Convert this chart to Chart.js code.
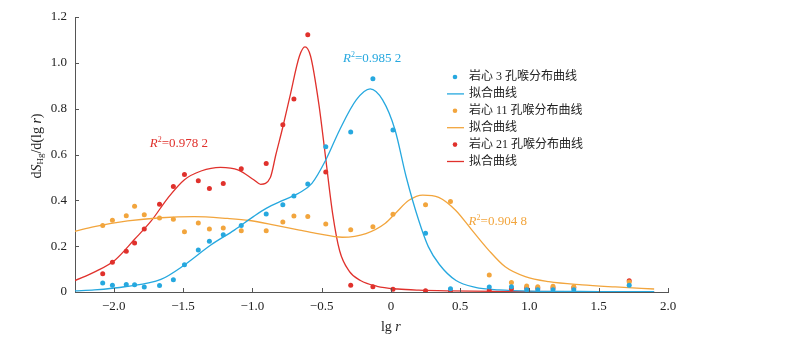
<!DOCTYPE html>
<html>
<head>
<meta charset="utf-8">
<script src="https://cdn.jsdelivr.net/npm/chart.js@4.4.1/dist/chart.umd.min.js"></script>
<style>
  html, body { margin: 0; padding: 0; background: #fff; }
  #wrap { width: 789px; height: 341px; }
</style>
</head>
<body>
<div id="wrap"><canvas id="poreChart" width="789" height="341"></canvas></div>
<script>
// measured pore-throat points (shared lg r positions)
const lgR = [-2.08, -2.01, -1.91, -1.85, -1.78, -1.67, -1.57, -1.49, -1.39, -1.31, -1.21, -1.08, -0.90, -0.78,
  -0.70, -0.60, -0.47, -0.29, -0.13, 0.015, 0.25, 0.43, 0.71, 0.87, 0.98, 1.06, 1.17, 1.32, 1.72];
const core3 = [0.039, 0.030, 0.033, 0.032, 0.022, 0.028, 0.054, 0.119, 0.183, 0.222, 0.250, 0.290, 0.340, 0.381,
  0.419, 0.471, 0.634, 0.698, 0.931, 0.707, 0.256, 0.014, 0.022, 0.023, 0.010, 0.010, 0.010, 0.010, 0.029];
const core11 = [0.290, 0.313, 0.333, 0.374, 0.337, 0.323, 0.318, 0.263, 0.301, 0.275, 0.279, 0.267, 0.267, 0.305,
  0.332, 0.329, 0.297, 0.272, 0.285, 0.339, 0.381, 0.395, 0.074, 0.041, 0.026, 0.023, 0.025, 0.023, 0.044];
const core21 = [0.080, 0.130, 0.178, 0.214, 0.275, 0.383, 0.460, 0.513, 0.486, 0.452, 0.473, 0.538, 0.561, 0.730,
  0.842, 1.123, 0.524, 0.030, 0.023, 0.012, 0.006, 0.004, 0.005, 0.014, 0.019, 0.017, 0.017, 0.019, 0.049];

// fitted curves
const fit3X = [-2.28, -2.14, -1.91, -1.66, -1.49, -1.30, -1.13, -0.99, -0.90, -0.78, -0.66, -0.57, -0.47, -0.37,
  -0.25, -0.15, -0.06, 0.03, 0.11, 0.20, 0.27, 0.35, 0.47, 0.61, 0.78, 1.00, 1.50, 1.90];
const fit3Y = [0.005, 0.009, 0.024, 0.055, 0.118, 0.205, 0.270, 0.330, 0.365, 0.400, 0.433, 0.474, 0.576, 0.707,
  0.838, 0.886, 0.838, 0.707, 0.503, 0.314, 0.198, 0.120, 0.050, 0.020, 0.009, 0.004, 0.002, 0.001];
const fit11X = [-2.28, -2.14, -1.90, -1.66, -1.42, -1.18, -1.02, -0.84, -0.66, -0.54, -0.35, -0.18, -0.04, 0.035,
  0.13, 0.23, 0.345, 0.465, 0.585, 0.705, 0.825, 0.97, 1.14, 1.38, 1.62, 1.90];
const fit11Y = [0.265, 0.285, 0.310, 0.324, 0.329, 0.321, 0.312, 0.292, 0.270, 0.256, 0.239, 0.255, 0.300, 0.345,
  0.400, 0.423, 0.413, 0.358, 0.270, 0.183, 0.110, 0.067, 0.045, 0.031, 0.022, 0.013];
const fit21X = [-2.28, -2.13, -1.99, -1.85, -1.73, -1.61, -1.49, -1.37, -1.23, -1.10, -0.99, -0.94, -0.87, -0.83,
  -0.78, -0.73, -0.66, -0.62, -0.58, -0.52, -0.47, -0.42, -0.37, -0.30, -0.22, -0.10, 0.05, 0.20, 0.42, 0.80, 1.30, 1.90];
const fit21Y = [0.050, 0.090, 0.140, 0.230, 0.310, 0.410, 0.490, 0.528, 0.544, 0.532, 0.490, 0.470, 0.500, 0.600,
  0.720, 0.850, 1.030, 1.070, 1.030, 0.820, 0.580, 0.340, 0.180, 0.090, 0.050, 0.025, 0.013, 0.008, 0.005, 0.003, 0.002, 0.002];

const xTicks = [-2.0, -1.5, -1.0, -0.5, 0, 0.5, 1.0, 1.5, 2.0];
const yTicks = [0, 0.2, 0.4, 0.6, 0.8, 1.0, 1.2];
const seriesNames = ['岩心 3 孔喉分布曲线', '岩心 11 孔喉分布曲线', '岩心 21 孔喉分布曲线'];
const fitName = '拟合曲线';
const r2Texts = ['0.985 2', '0.904 8', '0.978 2'];

const colors = ['#26a8df', '#f2a53d', '#e0312c'];
const SERIF = '"Liberation Serif", "Noto Sans CJK SC", serif';
const toXY = (xs, ys) => xs.map((v, i) => ({ x: v, y: ys[i] }));

const pointSets = [core3, core11, core21];
const fitSets = [[fit3X, fit3Y], [fit11X, fit11Y], [fit21X, fit21Y]];

const datasets = [];
pointSets.forEach((vals, i) => {
  datasets.push({
    label: seriesNames[i],
    data: toXY(lgR, vals),
    showLine: false,
    pointRadius: 2.5,
    pointBorderWidth: 0,
    pointBackgroundColor: colors[i],
    order: 1
  });
  datasets.push({
    label: fitName,
    data: toXY(fitSets[i][0], fitSets[i][1]),
    showLine: true,
    pointRadius: 0,
    borderColor: colors[i],
    borderWidth: 1.3,
    cubicInterpolationMode: 'monotone',
    order: 2
  });
});

// R² label anchors (data units: left edge, vertical middle)
const r2Pos = [[-0.345, 1.017], [0.561, 0.307], [-1.74, 0.646]];

function fmtTick(v) {
  if (v === 0) return '0';
  return v.toFixed(1).replace('-', '\u2212');
}

function drawRuns(ctx, runs, x, y) {
  let cx = x;
  runs.forEach(r => {
    ctx.font = r.font;
    ctx.fillText(r.t, cx, y + (r.dy || 0));
    cx += ctx.measureText(r.t).width;
  });
  return cx - x;
}
function runsWidth(ctx, runs) {
  let w = 0;
  runs.forEach(r => { ctx.font = r.font; w += ctx.measureText(r.t).width; });
  return w;
}

const extras = {
  id: 'extras',
  afterDraw(chart) {
    const { ctx, scales: { x, y } } = chart;
    ctx.save();

    // inward tick marks
    ctx.strokeStyle = '#555';
    ctx.lineWidth = 1;
    xTicks.forEach(v => {
      const px = Math.round(x.getPixelForValue(v)) + 0.5;
      ctx.beginPath(); ctx.moveTo(px, y.bottom); ctx.lineTo(px, y.bottom - 4); ctx.stroke();
    });
    yTicks.forEach(v => {
      const py = Math.round(y.getPixelForValue(v)) + 0.5;
      ctx.beginPath(); ctx.moveTo(x.left, py); ctx.lineTo(x.left + 4, py); ctx.stroke();
    });

    // R² annotations
    ctx.textBaseline = 'middle';
    ctx.textAlign = 'left';
    r2Texts.forEach((t, i) => {
      ctx.fillStyle = colors[i];
      const px = x.getPixelForValue(r2Pos[i][0]);
      const py = y.getPixelForValue(r2Pos[i][1]);
      drawRuns(ctx, [
        { t: 'R', font: 'italic 13px ' + SERIF },
        { t: '2', font: '8px ' + SERIF, dy: -4 },
        { t: '=', font: '13px ' + SERIF },
        { t: t, font: '13px ' + SERIF }
      ], px, py);
    });

    // legend
    const lx = 455, ly = 77, step = 16.9;
    seriesNames.forEach((name, i) => {
      const r1 = ly + step * 2 * i, r2 = r1 + step;
      ctx.fillStyle = colors[i];
      ctx.beginPath(); ctx.arc(lx, r1, 2.3, 0, Math.PI * 2); ctx.fill();
      ctx.strokeStyle = colors[i]; ctx.lineWidth = 1.3;
      ctx.beginPath(); ctx.moveTo(lx - 8, r2); ctx.lineTo(lx + 9, r2); ctx.stroke();
      ctx.fillStyle = '#222';
      ctx.font = '12px ' + SERIF;
      ctx.fillText(name, lx + 14, r1);
      ctx.fillText(fitName, lx + 14, r2);
    });

    // axis titles
    ctx.fillStyle = '#222';
    const xt = [{ t: 'lg ', font: '14px ' + SERIF }, { t: 'r', font: 'italic 14px ' + SERIF }];
    const cx = x.getPixelForValue(0);
    drawRuns(ctx, xt, cx - runsWidth(ctx, xt) / 2, 327);

    const yt = [
      { t: 'd', font: '14px ' + SERIF },
      { t: 'S', font: 'italic 14px ' + SERIF },
      { t: 'Hg', font: '9px ' + SERIF, dy: 4 },
      { t: '/d(lg ', font: '14px ' + SERIF },
      { t: 'r', font: 'italic 14px ' + SERIF },
      { t: ')', font: '14px ' + SERIF }
    ];
    ctx.translate(37, 146);
    ctx.rotate(-Math.PI / 2);
    drawRuns(ctx, yt, -runsWidth(ctx, yt) / 2, 0);

    ctx.restore();
  }
};

const ctxMain = document.getElementById('poreChart').getContext('2d');
new Chart(ctxMain, {
  type: 'scatter',
  data: { datasets: datasets },
  options: {
    responsive: false,
    animation: false,
    devicePixelRatio: 1,
    layout: { padding: { top: 17, right: 121, left: 0, bottom: 0 } },
    plugins: {
      legend: { display: false },
      tooltip: { enabled: false }
    },
    scales: {
      x: {
        type: 'linear',
        min: -2.28,
        max: 2.0,
        afterBuildTicks: s => { s.ticks = xTicks.map(v => ({ value: v })); },
        afterFit: s => { s.height = 49; },
        grid: { display: false, drawTicks: false },
        border: { color: '#555', width: 1 },
        ticks: {
          callback: v => fmtTick(v),
          color: '#222',
          padding: 7,
          maxRotation: 0,
          autoSkip: false,
          font: { family: SERIF, size: 13 }
        }
      },
      y: {
        min: 0,
        max: 1.2,
        afterBuildTicks: s => { s.ticks = yTicks.map(v => ({ value: v })); },
        afterFit: s => { s.width = 75; },
        grid: { display: false, drawTicks: false },
        border: { color: '#555', width: 1 },
        ticks: {
          callback: v => fmtTick(v),
          color: '#222',
          padding: 8,
          font: { family: SERIF, size: 13 }
        }
      }
    }
  },
  plugins: [extras]
});
</script>
</body>
</html>
